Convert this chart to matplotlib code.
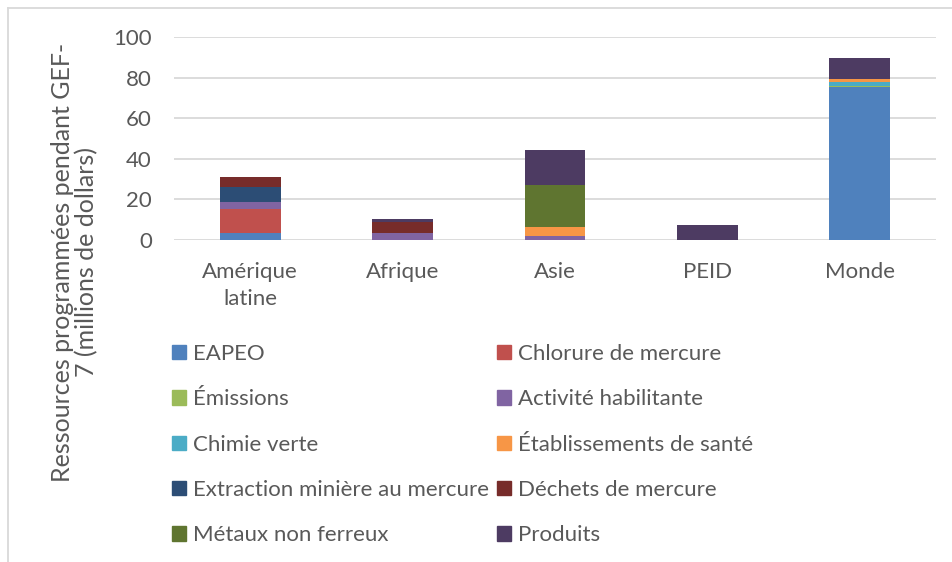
import matplotlib.pyplot as plt
import numpy as np
from matplotlib.lines import Line2D
from matplotlib.patches import Patch

plt.rcParams['font.family'] = ['Lato', 'DejaVu Sans']

# Données (millions de dollars)
regions = ['Amérique\nlatine', 'Afrique', 'Asie', 'PEID', 'Monde']
series = ['EAPEO', 'Chlorure de mercure', 'Émissions', 'Activité habilitante',
          'Chimie verte', 'Établissements de santé', 'Extraction minière au mercure',
          'Déchets de mercure', 'Métaux non ferreux', 'Produits']
eapeo = [3.3, 0, 0, 0, 75.2]
chlorure = [12.0, 0, 0, 0, 0]
emissions = [0, 0, 0, 0, 0.5]
activite = [3.6, 3.6, 2.1, 0, 0]
chimie = [0, 0, 0, 0, 2.0]
etablissements = [0, 0, 4.1, 0, 1.8]
extraction = [7.0, 0, 0, 0, 0]
dechets = [5.3, 5.4, 0, 0, 0]
metaux = [0, 0, 20.8, 0, 0]
produits = [0, 1.3, 17.2, 7.4, 10.2]

values = [eapeo, chlorure, emissions, activite, chimie, etablissements,
          extraction, dechets, metaux, produits]
colors = ['#4F81BD', '#C0504D', '#9BBB59', '#8064A2', '#4BACC6',
          '#F79646', '#2C4D75', '#772C2A', '#5F7530', '#4D3B62']

grey = '#595959'
fig = plt.figure(figsize=(9.53, 5.62), dpi=100)
ax = fig.add_axes([174/953, 1-240/562, (936-174)/953, (240-37)/562])

x = np.arange(len(regions))
bottom = np.zeros(len(regions))
for vals, c in zip(values, colors):
    ax.bar(x, vals, 0.4, bottom=bottom, color=c, zorder=3)
    bottom += np.array(vals)

ax.set_xlim(-0.5, 4.5)
ax.set_ylim(0, 100)
ax.set_yticks(range(0, 101, 20))
ax.set_xticks(x)
ax.set_xticklabels(regions)
for lab in ax.get_xticklabels():
    lab.set_linespacing(1.45)
ax.grid(axis='y', color='#d9d9d9', lw=1.3, zorder=0)
for s in ax.spines.values():
    s.set_visible(False)
ax.tick_params(length=0, labelsize=16, colors=grey)
ax.tick_params(axis='y', pad=16)
ax.tick_params(axis='x', pad=16)

fig.text(75/953, 1-262/562, 'Ressources programmées pendant GEF-\n7 (millions de dollars)',
         rotation=90, ha='center', va='center', fontsize=18, color=grey,
         linespacing=1.05)

# légende en deux colonnes, ordre par ligne
handles = [Patch(color=c) for c in colors]
for col, xpos in enumerate([172, 497]):
    leg = fig.legend(handles[col::2], series[col::2], loc='upper left',
                     bbox_to_anchor=(xpos/953, 1-344/562), frameon=False,
                     fontsize=16, borderpad=0, borderaxespad=0,
                     handlelength=0.63, handleheight=0.63, handletextpad=0.3,
                     labelspacing=1.14, labelcolor=grey)

# cadre du graphique
fig.add_artist(Line2D([8/953, 8/953], [0, 1-8/562], color='#d9d9d9', lw=1.3))
fig.add_artist(Line2D([8/953, 1], [1-8/562, 1-8/562], color='#d9d9d9', lw=1.3))

fig.savefig('out.png', dpi=100)
